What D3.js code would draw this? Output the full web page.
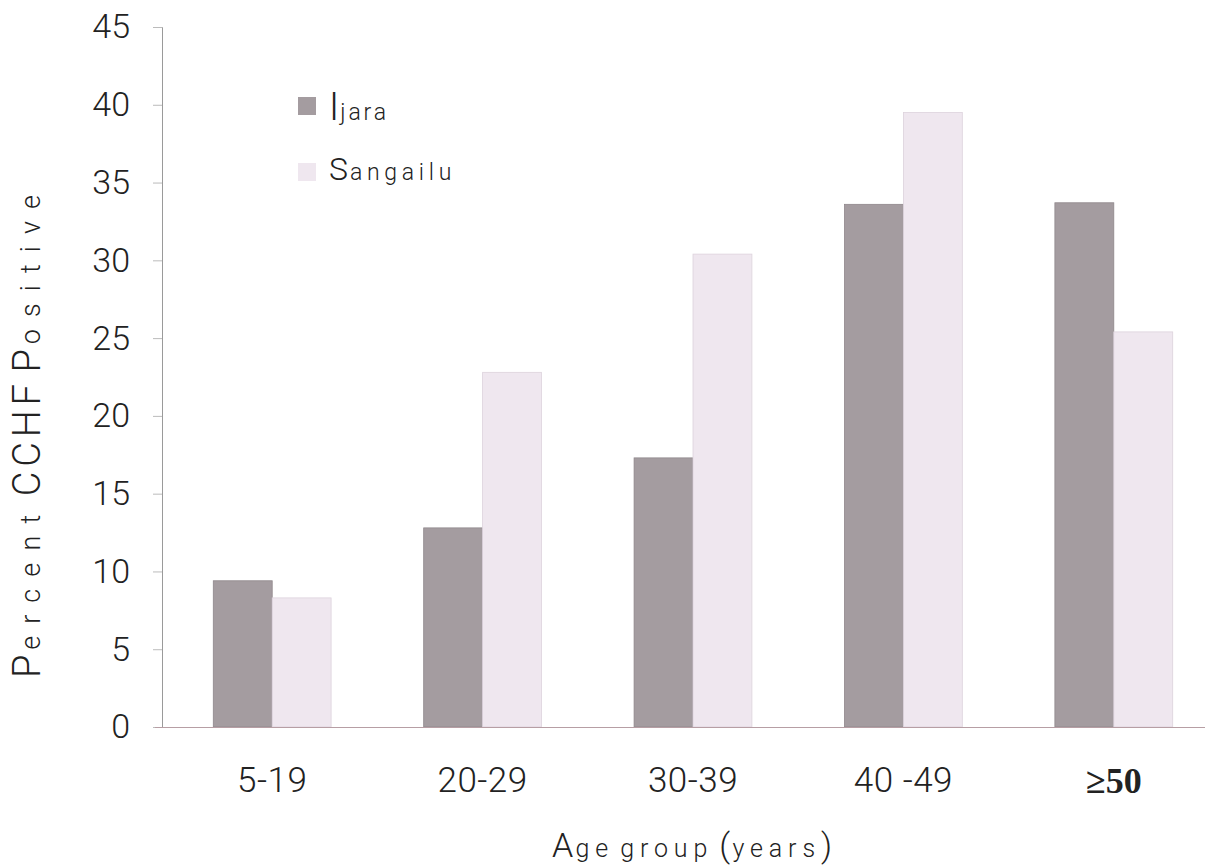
<!DOCTYPE html>
<html><head><meta charset="utf-8">
<script src="https://cdn.jsdelivr.net/npm/d3@7"></script>
<style>
body{margin:0;background:#fff;}
</style></head><body>
<svg id="c" width="1211" height="868"></svg>
<script>
const categories = ["5-19","20-29","30-39","40 -49","≥50"];
const seriesNames = ["Ijara","Sangailu"];
const ijara = [9.4, 12.8, 17.3, 33.6, 33.7];
const sangailu = [8.3, 22.8, 30.4, 39.5, 25.4];
const yTicks = [0,5,10,15,20,25,30,35,40,45];
const colors = ["#a49ca0","#efe7ef"];

const SANS = "Roboto, 'Liberation Sans', sans-serif";
const svg = d3.select("#c");
const y = d3.scaleLinear().domain([0,45]).range([727,27]);
const x0 = d3.scaleBand().domain(categories).range([167,1219]).paddingInner(0.44).paddingOuter(0.22);
const x1 = d3.scaleBand().domain(seriesNames).range([0,x0.bandwidth()]).padding(0);
const data = categories.map((c,i)=>({cat:c, vals:[ijara[i], sangailu[i]]}));

// y axis
const yAxis = d3.axisLeft(y).tickValues(yTicks).tickSize(9).tickPadding(23).tickFormat(d3.format("d"));
const gy = svg.append("g").attr("transform","translate(162,0)").call(yAxis).attr("font-family",SANS);
gy.select(".domain").attr("stroke","#9a9a9a").attr("stroke-width",1);
gy.selectAll(".tick line").attr("stroke","#bbb");
gy.selectAll(".tick text").attr("font-size",34).attr("font-weight",300).attr("fill","#222");

// bars
const g = svg.append("g");
data.forEach(d=>{
  d.vals.forEach((v,j)=>{
    g.append("rect")
      .attr("x", x0(d.cat)+x1(seriesNames[j]))
      .attr("y", y(v))
      .attr("width", x1.bandwidth())
      .attr("height", y(0)-y(v))
      .attr("fill", colors[j])
      .attr("stroke", j===0 ? "#8f878b" : "#ddd3dc")
      .attr("stroke-width",0.8);
  });
});

// x axis
const xAxis = d3.axisBottom(x0).tickSize(0).tickPadding(40);
const gx = svg.append("g").attr("transform","translate(0,727)").call(xAxis).attr("font-family",SANS);
gx.select(".domain").attr("d","M155,0.5H1205").attr("stroke","#b79ea4").attr("stroke-width",1.2);
gx.selectAll(".tick text").attr("font-size",35).attr("font-weight",300).attr("fill","#222").attr("letter-spacing",0.5)
  .filter(d=>d==="≥50").attr("font-family","'Liberation Serif','Times New Roman',serif").attr("font-weight",700).attr("font-size",36).attr("letter-spacing",0);

// mixed-size text helper: parts = [text, size, spacingWeight]; extra width spread by weight
function mixed(sel, parts, target){
  const t = sel.attr("fill","#222").attr("font-weight",300).attr("font-family",SANS);
  const spans = parts.map(p=>t.append("tspan").attr("font-size",p[1]).text(p[0]).datum(p));
  const nat = t.node().getComputedTextLength();
  let n = 0; parts.forEach(p=>{ n += p[0].length * p[2]; });
  const ls = n>0 ? Math.max(0,(target-nat)/n) : 0;
  spans.forEach(s=>{ const w = s.datum()[2]; if(w) s.attr("letter-spacing",ls*w); });
  return t;
}

// x title
mixed(svg.append("text").attr("x",552).attr("y",857),
  [["A",34,0.4],["ge",25,1],[" ",25,0],["group",25,1],[" ",25,0],["(",34,0.4],["years",25,1],[")",34,0]], 280);

// y title
mixed(svg.append("text").attr("transform","translate(40,678) rotate(-90)"),
  [["P",38,0.4],["ercent",27,1],[" ",27,0],["CCHF",38,0.4],[" ",27,0],["P",38,0.4],["ositive",27,1]], 495);

// legend
const legLen = [60, 127];
const leg = svg.append("g");
seriesNames.forEach((s,i)=>{
  const sy = i===0 ? 97 : 163;
  const by = i===0 ? 120 : 180;
  leg.append("rect").attr("x",298).attr("y",sy).attr("width",18).attr("height",18).attr("fill",colors[i]);
  mixed(leg.append("text").attr("x",329).attr("y",by),
    [[s[0], i===0?38:32, 0.4],[s.slice(1),23,1]], legLen[i]);
});
</script></body></html>
